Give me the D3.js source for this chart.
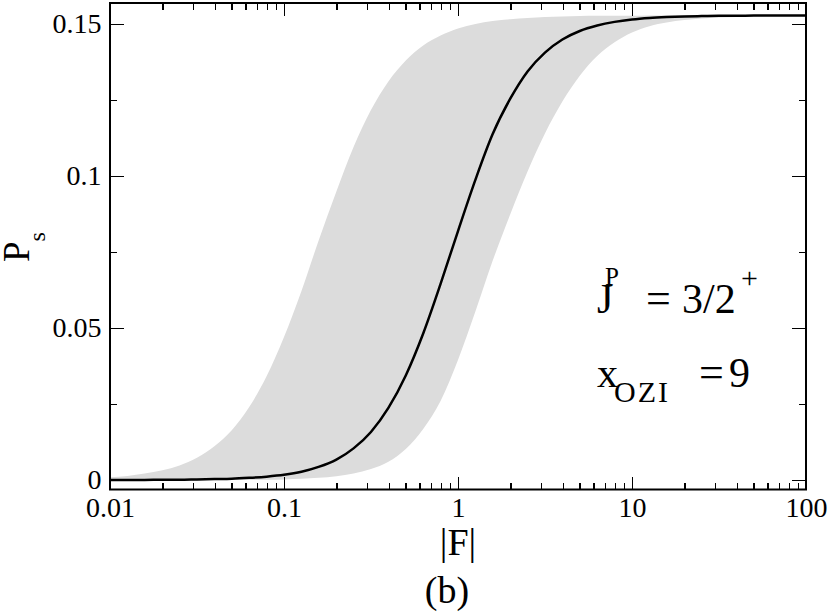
<!DOCTYPE html>
<html lang="en">
<head>
<meta charset="utf-8">
<title>Ps vs |F|</title>
<script src="https://d3js.org/d3.v7.min.js"></script>
<style type="text/css">
body {
  margin: 0;
  background-color: #ffffff;
  font-family: "Liberation Serif", "DejaVu Serif", serif;
}
text, tspan {
  font-family: "Liberation Serif", serif;
}
.axis text {
  font-family: "Liberation Serif", serif;
  font-size: 28px;
  fill: #000;
}
.axis line {
  stroke: #000;
  stroke-width: 1.5;
  shape-rendering: crispEdges;
}
.axis path { display: none; }
</style>
</head>
<body>
<script type="text/javascript">
// |F| sample points (read along the log axis)
var fValues = [0.01, 0.0126, 0.0158, 0.02, 0.0251, 0.0316, 0.0398, 0.0501, 0.0631, 0.0794,
               0.1, 0.126, 0.158, 0.2, 0.251, 0.316, 0.398, 0.501, 0.631, 0.794,
               1, 1.26, 1.58, 2, 2.51, 3.16, 3.98, 5.01, 6.31, 7.94,
               10, 12.6, 15.8, 20, 25.1, 31.6, 39.8, 50.1, 63.1, 79.4, 100];

// central curve
var psCentral = [0, 0, 0, 0.0001, 0.0001, 0.0002, 0.0003, 0.0004, 0.0007, 0.0011,
                 0.0017, 0.0027, 0.0043, 0.0067, 0.0104, 0.0158, 0.0237, 0.0344, 0.0482, 0.0645,
                 0.0819, 0.0988, 0.1137, 0.1255, 0.1344, 0.1406, 0.1449, 0.1477, 0.1495, 0.1507,
                 0.1515, 0.1520, 0.1523, 0.1525, 0.1526, 0.1527, 0.1527, 0.1528, 0.1528, 0.1528, 0.1528];

// upper edge of the grey band
var psUpper = [0.0009, 0.0013, 0.0021, 0.0032, 0.0048, 0.0073, 0.0111, 0.0164, 0.0240, 0.0341,
               0.0470, 0.0622, 0.0787, 0.0949, 0.1095, 0.1217, 0.1311, 0.1380, 0.1429, 0.1462,
               0.1485, 0.1500, 0.1510, 0.1516, 0.1520, 0.1523, 0.1525, 0.1526, 0.1527, 0.1527,
               0.1527, 0.1528, 0.1528, 0.1528, 0.1528, 0.1528, 0.1528, 0.1528, 0.1528, 0.1528, 0.1528];

// lower edge of the grey band
var psLower = [0, 0, 0, 0, 0, 0, 0, 0, 0.0001, 0.0001,
               0.0002, 0.0004, 0.0007, 0.0012, 0.0021, 0.0036, 0.0060, 0.0102, 0.0168, 0.0260,
               0.0395, 0.0555, 0.0720, 0.0875, 0.1015, 0.1140, 0.1245, 0.1330, 0.1395, 0.1440,
               0.1472, 0.1493, 0.1505, 0.1513, 0.1518, 0.1521, 0.1523, 0.1525, 0.1526, 0.1527, 0.1527];

var xMajor = [0.01, 0.1, 1, 10, 100];
var xMajorLabels = ["0.01", "0.1", "1", "10", "100"];
var yMajor = [0, 0.05, 0.1, 0.15];
var yMajorLabels = ["0", "0.05", "0.1", "0.15"];
var yMinor = [0.025, 0.075, 0.125];

var width = 830, height = 614;
var pLeft = 110, pRight = 806, pTop = 3, pBottom = 489.5;

var svg = d3.select("body").append("svg")
  .attr("width", width)
  .attr("height", height);

var x = d3.scaleLog().domain([0.01, 100]).range([pLeft, pRight]);
var y = d3.scaleLinear().domain([-0.003125, 0.156908]).range([pBottom, pTop]);

// minor log ticks 2..9 per decade
var xMinor = [];
xMajor.slice(0, -1).forEach(function(d) {
  for (var k = 2; k <= 9; k++) xMinor.push(d * k);
});

var pts = fValues.map(function(f, i) {
  return { f: f, c: psCentral[i], u: psUpper[i], l: psLower[i] };
});

svg.append("clipPath").attr("id", "plotclip")
  .append("rect")
  .attr("x", pLeft).attr("y", pTop)
  .attr("width", pRight - pLeft).attr("height", pBottom - pTop);

// grey band
var band = d3.area()
  .x(function(d) { return x(d.f); })
  .y0(function(d) { return y(d.l); })
  .y1(function(d) { return y(d.u); })
  .curve(d3.curveMonotoneX);

svg.append("path")
  .datum(pts)
  .attr("clip-path", "url(#plotclip)")
  .attr("d", band)
  .style("fill", "#dcdcdc")
  .style("stroke", "none");

// central line
var line = d3.line()
  .x(function(d) { return x(d.f); })
  .y(function(d) { return y(d.c); })
  .curve(d3.curveMonotoneX);

svg.append("path")
  .datum(pts)
  .attr("clip-path", "url(#plotclip)")
  .attr("d", line)
  .style("fill", "none")
  .style("stroke", "#000")
  .style("stroke-width", 2.5);

// axes, ticks pointing inward
svg.append("g").attr("class", "axis")
  .attr("transform", "translate(0," + pBottom + ")")
  .call(d3.axisBottom(x).tickValues(xMajor).tickSize(-13).tickPadding(8)
    .tickFormat(function(d, i) { return xMajorLabels[i]; }));
svg.append("g").attr("class", "axis")
  .attr("transform", "translate(0," + pBottom + ")")
  .call(d3.axisBottom(x).tickValues(xMinor).tickSize(-7).tickFormat(""));
svg.append("g").attr("class", "axis")
  .attr("transform", "translate(0," + pTop + ")")
  .call(d3.axisTop(x).tickValues(xMajor).tickSize(-13).tickFormat(""));
svg.append("g").attr("class", "axis")
  .attr("transform", "translate(0," + pTop + ")")
  .call(d3.axisTop(x).tickValues(xMinor).tickSize(-7).tickFormat(""));

svg.append("g").attr("class", "axis")
  .attr("transform", "translate(" + pLeft + ",0)")
  .call(d3.axisLeft(y).tickValues(yMajor).tickSize(-14).tickPadding(8.5)
    .tickFormat(function(d, i) { return yMajorLabels[i]; }));
svg.append("g").attr("class", "axis")
  .attr("transform", "translate(" + pLeft + ",0)")
  .call(d3.axisLeft(y).tickValues(yMinor).tickSize(-7).tickFormat(""));
svg.append("g").attr("class", "axis")
  .attr("transform", "translate(" + pRight + ",0)")
  .call(d3.axisRight(y).tickValues(yMajor).tickSize(-14).tickFormat(""));
svg.append("g").attr("class", "axis")
  .attr("transform", "translate(" + pRight + ",0)")
  .call(d3.axisRight(y).tickValues(yMinor).tickSize(-7).tickFormat(""));

// frame
svg.append("rect")
  .attr("x", pLeft).attr("y", pTop)
  .attr("width", pRight - pLeft).attr("height", pBottom - pTop)
  .style("fill", "none")
  .style("stroke", "#000")
  .style("stroke-width", 2);

// axis titles
svg.append("text")
  .attr("x", 458).attr("y", 555)
  .attr("text-anchor", "middle")
  .style("font-size", "38px")
  .text("|F|");

svg.append("text")
  .attr("x", 447).attr("y", 603)
  .attr("text-anchor", "middle")
  .style("font-size", "38px")
  .text("(b)");

var ylab = svg.append("text")
  .attr("transform", "translate(29,262) rotate(-90)")
  .style("font-size", "37px");
ylab.append("tspan").text("P");
ylab.append("tspan").attr("dy", 16).style("font-size", "24px").text("s");

// annotation
var t1 = svg.append("text").attr("x", 597).attr("y", 313).style("font-size", "42px");
t1.append("tspan").text("J");
t1.append("tspan").attr("x", 605).attr("dy", -28).style("font-size", "25px").text("P");
t1.append("tspan").attr("x", 646).attr("dy", 28).style("font-size", "44px").text("=");
t1.append("tspan").attr("x", 682).text("3/2");
t1.append("tspan").attr("x", 741).attr("dy", -25).style("font-size", "30px").text("+");

var t2 = svg.append("text").attr("x", 597).attr("y", 387).style("font-size", "42px");
t2.append("tspan").text("x");
t2.append("tspan").attr("x", 614).attr("dy", 15).style("font-size", "30px")
  .style("letter-spacing", "2px").text("OZI");
t2.append("tspan").attr("x", 699).attr("dy", -15).style("font-size", "44px").text("=");
t2.append("tspan").attr("x", 729).text("9");
</script>
</body>
</html>
